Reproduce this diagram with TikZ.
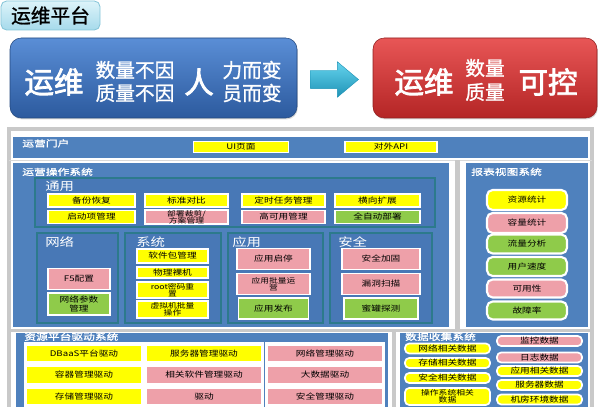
\documentclass[tikz,border=0pt]{standalone}
\usepackage{fontspec}
\setmainfont{Noto Sans CJK SC}
\newfontfamily\heavycjk[FakeBold=2.5]{Noto Sans CJK SC}
\newfontfamily\semicjk[FakeBold=1.2]{Noto Sans CJK SC}
\newfontfamily\widecjk[FakeStretch=1.25]{Noto Sans CJK SC}
\newfontfamily\widebold[FakeStretch=1.35,FakeBold=1.3]{Noto Sans CJK SC}
\usetikzlibrary{shapes.arrows,shadows}
\definecolor{panelblue}{HTML}{4F81BD}
\definecolor{groupblue}{HTML}{4878B6}
\definecolor{groupedge}{HTML}{2C7A8C}
\definecolor{itemyellow}{HTML}{FFFF00}
\definecolor{itempink}{HTML}{EEA0A9}
\definecolor{itemgreen}{HTML}{8FCB4A}
\definecolor{framegray}{HTML}{C9C9C9}
\definecolor{tabtop}{HTML}{DDF4FA}
\definecolor{tabbottom}{HTML}{A6DAEB}
\definecolor{tabedge}{HTML}{86C5D8}
\definecolor{opstop}{HTML}{5A8ED6}
\definecolor{opsbottom}{HTML}{2C5A9E}
\definecolor{goaltop}{HTML}{E85656}
\definecolor{goalbottom}{HTML}{B42525}
\definecolor{arrowtop}{HTML}{66D4EE}
\definecolor{arrowbottom}{HTML}{1E93B6}

\begin{document}
\begin{tikzpicture}[
  x=0.025cm,y=-0.025cm,
  sz/.style 2 args={minimum width=#1*0.025cm,minimum height=#2*0.025cm},
  oneline/.style={font=\widecjk\fontsize{5.5}{6}\selectfont},
  twoline/.style={font=\widecjk\fontsize{5}{5.2}\selectfont},
  item/.style={
    rectangle,
    draw=white,
    line width=1.2pt,
    inner sep=0pt,
    outer sep=0pt,
    text=black,
    align=center,
    oneline
  },
  roundy/.style={item,rounded corners=3pt},
  cell/.style={item,line width=2.2pt},
  panel/.style={rectangle,fill=panelblue,inner sep=0pt,outer sep=0pt},
  group/.style={
    rectangle,
    fill=groupblue,
    draw=groupedge,
    line width=1.4pt,
    inner sep=0pt
  },
  paneltitle/.style={
    anchor=north west,
    inner sep=0pt,
    text=white,
    font=\widebold\fontsize{6.2}{6.5}\selectfont
  },
  grouptitle/.style={
    anchor=north west,
    inner sep=0pt,
    text=white,
    font=\widecjk\fontsize{8.2}{9}\selectfont
  },
  bigword/.style={text=white,inner sep=0pt,font=\heavycjk\fontsize{21}{22}\selectfont},
  midword/.style={text=white,inner sep=0pt,font=\semicjk\fontsize{14}{15}\selectfont},
  frameline/.style={draw=framegray,line width=2.5pt}
]
\useasboundingbox (0,0) rectangle (600,407);

% ------------------------------------------------------------
% Heading: from people-bound operations to controlled operations
% ------------------------------------------------------------

\node[
  rectangle,rounded corners=4pt,
  top color=tabtop,bottom color=tabbottom,
  draw=tabedge,line width=0.6pt,
  sz={99}{29},inner sep=0pt,
  font=\semicjk\fontsize{14}{15}\selectfont
] (platform) at (50.5,15.5) {运维平台};

\node[
  rectangle,rounded corners=8pt,
  top color=opstop,bottom color=opsbottom,
  draw=opsbottom!80!black,line width=0.4pt,
  sz={287}{80},
  drop shadow={shadow xshift=0.6pt,shadow yshift=-1pt,opacity=0.3}
] (opsnow) at (153.5,78) {};

\node[bigword] (opsword) at (54,82) {运维};
\node[midword] (countline) at (135,70) {数量不因};
\node[midword] (qualityline) at (135,93) {质量不因};
\node[bigword] (person) at (199,82) {人};
\node[midword] (powerline) at (252,70) {力而变};
\node[midword] (staffline) at (252,93) {员而变};

\node[
  single arrow,
  single arrow head extend=8.5*0.025cm,
  single arrow tip angle=80,
  inner xsep=0pt,
  inner ysep=9*0.025cm,
  minimum height=48*0.025cm,
  top color=arrowtop,bottom color=arrowbottom,
  draw=arrowbottom,line width=0.3pt
] (shift) at (329,79.5) {};

\node[
  rectangle,rounded corners=8pt,
  top color=goaltop,bottom color=goalbottom,
  draw=goalbottom!80!black,line width=0.4pt,
  sz={224}{80},
  drop shadow={shadow xshift=0.6pt,shadow yshift=-1pt,opacity=0.3}
] (opsgoal) at (485,78) {};

\node[bigword] (goalword) at (424,82) {运维};
\node[midword] (goalcount) at (485,68) {数量};
\node[midword] (goalquality) at (485,92) {质量};
\node[bigword] (control) at (548,82) {可控};

% ------------------------------------------------------------
% Platform frame and panels
% ------------------------------------------------------------

\draw[frameline] (9,129) rectangle (592,412);
\draw[draw=framegray!70,line width=1pt] (9,160.5) -- (592,160.5);
\draw[draw=framegray,line width=4pt] (457.5,160.5) -- (457.5,330.5);
\draw[frameline] (9,330.5) -- (592,330.5);
\draw[draw=framegray,line width=3.5pt] (394,330.5) -- (394,412);

\node[panel,sz={575}{21}] (portal) at (300.5,147.5) {};
\node[item,fill=itemyellow,sz={95}{11}] (uipage) at (241,147) {UI页面};
\node[item,fill=itemyellow,sz={92}{11}] (openapi) at (391,147) {对外API};

\node[panel,sz={436}{164}] (opsystem) at (231,245) {};
\node[panel,sz={122}{164}] (report) at (527,245) {};
\node[panel,sz={372}{79}] (driver) at (202,372.5) {};
\node[panel,sz={188}{79}] (collect) at (494,372.5) {};

% ------------------------------------------------------------
% Operation groups
% ------------------------------------------------------------

\node[group,sz={400}{49}] (general) at (235,202.5) {};
\node[grouptitle] at (45,181) {通用};

\foreach \n/\x/\y/\w/\c/\f/\t in {
  bak/91.5/200.5/87/itemyellow/oneline/备份恢复,
  boot/91.5/217/87/itemyellow/oneline/启动项管理,
  std/186.5/200.5/83/itemyellow/oneline/标准对比,
  trim/186.5/217/83/itempink/twoline/{部署裁剪/\\方案管理},
  cron/283.5/200.5/83/itemyellow/oneline/定时任务管理,
  ha/283.5/217/83/itempink/oneline/高可用管理,
  grow/377.5/200.5/85/itemyellow/oneline/横向扩展,
  auto/377.5/217/85/itemgreen/oneline/全自动部署}{
  \node[item,fill=\c,sz={\w}{13},\f] (gen\n) at (\x,\y) {\t};
}

\node[group,sz={81}{90}] (network) at (77.5,278) {};
\node[grouptitle] at (45,236) {网络};
\node[item,fill=itempink,sz={62}{21}] (netfive) at (79,279) {F5配置};
\node[item,fill=itemgreen,sz={62}{22}] (netparam) at (79,304)
  {网络参数\\管理};

\node[group,sz={96}{90}] (system) at (173,278) {};
\node[grouptitle] at (136,236) {系统};
\foreach \n/\y/\h/\f/\t in {
  pkg/256/14/oneline/软件包管理,
  metal/272.5/11/oneline/物理裸机,
  root/290/16/twoline/{root密码重\\置},
  vm/309.5/17/twoline/{虚拟机批量\\操作}}{
  \node[item,fill=itemyellow,sz={71}{\h},\f] (sys\n) at (172.5,\y) {\t};
}

\node[group,sz={95}{90}] (application) at (275.5,278) {};
\node[grouptitle] at (232,236) {应用};
\foreach \n/\y/\w/\c/\f/\t in {
  start/259/73/itempink/oneline/应用启停,
  batch/284/73/itempink/twoline/{应用批量运\\营},
  release/308.5/70/itemgreen/oneline/应用发布}{
  \node[item,fill=\c,sz={\w}{21},\f] (app\n) at (273.5,\y) {\t};
}

\node[group,sz={102}{90}] (security) at (381,278) {};
\node[grouptitle] at (338,236) {安全};
\foreach \n/\y/\w/\c/\t in {
  harden/259/78/itempink/安全加固,
  scan/284/78/itempink/漏洞扫描,
  honey/308.5/74/itemgreen/蜜罐探测}{
  \node[item,fill=\c,sz={\w}{21}] (sec\n) at (381,\y) {\t};
}

% ------------------------------------------------------------
% Report views
% ------------------------------------------------------------

\foreach \n/\y/\h/\c/\t in {
  res/200/20/itemyellow/资源统计,
  cap/223/20/itempink/容量统计,
  flow/244/19/itemgreen/流量分析,
  speed/266.5/19/itemgreen/用户速度,
  avail/288.5/18/itempink/可用性,
  fault/310.5/18/itemgreen/故障率}{
  \node[roundy,rounded corners=4pt,line width=1.5pt,fill=\c,sz={80}{\h},
    drop shadow={shadow xshift=0.3pt,shadow yshift=-0.4pt,opacity=0.35}]
    (rep\n) at (527,\y) {\t};
}

% ------------------------------------------------------------
% Resource drivers and data collection
% ------------------------------------------------------------

\foreach \n/\x/\y/\c/\t in {
  dbaas/84/353.5/itemyellow/DBaaS平台驱动,
  server/204/353.5/itemyellow/服务器管理驱动,
  net/325/353.5/itempink/网络管理驱动,
  box/84/375/itemyellow/容器管理驱动,
  soft/204/375/itempink/相关软件管理驱动,
  data/325/375/itempink/大数据驱动,
  store/84/396.5/itemyellow/存储管理驱动,
  plain/204/396.5/itempink/驱动,
  safe/325/396.5/itempink/安全管理驱动}{
  \node[cell,fill=\c,sz={117}{19}] (drv\n) at (\x,\y) {\t};
}

\foreach \n/\y/\h/\f/\t in {
  net/348.5/10/oneline/网络相关数据,
  store/363/10/oneline/存储相关数据,
  safe/378/10/oneline/安全相关数据,
  os/396.5/17/twoline/{操作系统相关\\数据}}{
  \node[roundy,fill=itemyellow,sz={85}{\h},\f] (col\n) at (447.5,\y) {\t};
}
\foreach \n/\y/\c/\t in {
  watch/341/itempink/监控数据,
  log/357.5/itempink/日志数据,
  app/371/itemyellow/应用相关数据,
  server/385/itemyellow/服务器数据,
  room/399.5/itemyellow/机房环境数据}{
  \node[roundy,fill=\c,sz={85}{10}] (col\n) at (539.5,\y) {\t};
}

% ------------------------------------------------------------
% Panel titles
% ------------------------------------------------------------

\node[paneltitle] (portaltitle) at (22,139) {运营门户};
\node[paneltitle] (opstitle) at (22,167.5) {运营操作系统};
\node[paneltitle] (reporttitle) at (471,167.5) {报表视图系统};
\node[paneltitle] (drivertitle) at (24,332.5) {资源平台驱动系统};
\node[paneltitle] (collecttitle) at (405,332.5) {数据收集系统};
\end{tikzpicture}
\end{document}
